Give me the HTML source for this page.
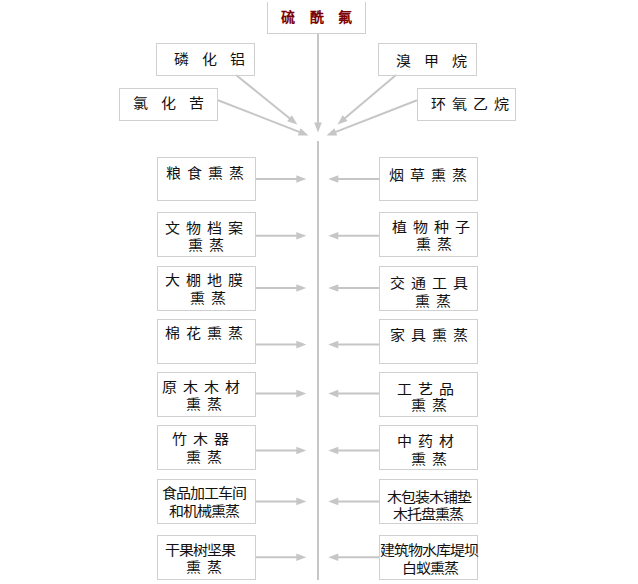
<!DOCTYPE html>
<html lang="zh-CN"><head><meta charset="utf-8"><style>
html,body{margin:0;padding:0;background:#fff;}
body{width:638px;height:584px;position:relative;overflow:hidden;font-family:"Liberation Sans",sans-serif;}
.b{position:absolute;box-sizing:border-box;border:1px solid #d0d0d0;}
.t{position:absolute;transform-origin:0 0;white-space:nowrap;font-size:14px;line-height:14px;color:#111;font-weight:300;}
.top{color:#7c0000;font-weight:bold;}
svg{position:absolute;left:0;top:0;}
</style></head><body>

<svg width="638" height="584" viewBox="0 0 638 584">
<line x1="318.00" y1="33.00" x2="318.00" y2="124.50" stroke="#c6c6c6" stroke-width="2"/>
<polygon points="318.00,132.50 314.20,122.50 321.80,122.50" fill="#c6c6c6"/>
<line x1="236.00" y1="75.00" x2="291.08" y2="119.47" stroke="#c6c6c6" stroke-width="2"/>
<polygon points="297.30,124.50 287.13,121.17 291.91,115.26" fill="#c6c6c6"/>
<line x1="218.00" y1="100.20" x2="301.05" y2="132.59" stroke="#c6c6c6" stroke-width="2"/>
<polygon points="308.50,135.50 297.80,135.41 300.56,128.33" fill="#c6c6c6"/>
<line x1="396.00" y1="75.00" x2="343.61" y2="119.33" stroke="#c6c6c6" stroke-width="2"/>
<polygon points="337.50,124.50 342.68,115.14 347.59,120.94" fill="#c6c6c6"/>
<line x1="417.00" y1="100.20" x2="333.95" y2="132.59" stroke="#c6c6c6" stroke-width="2"/>
<polygon points="326.50,135.50 334.44,128.33 337.20,135.41" fill="#c6c6c6"/>
<line x1="318.00" y1="141.00" x2="318.00" y2="580.00" stroke="#c6c6c6" stroke-width="2"/>
<line x1="255.00" y1="179.00" x2="298.30" y2="179.00" stroke="#c6c6c6" stroke-width="2"/>
<polygon points="306.30,179.00 296.30,182.80 296.30,175.20" fill="#c6c6c6"/>
<line x1="380.00" y1="179.00" x2="336.30" y2="179.00" stroke="#c6c6c6" stroke-width="2"/>
<polygon points="328.30,179.00 338.30,175.20 338.30,182.80" fill="#c6c6c6"/>
<line x1="255.00" y1="235.80" x2="298.30" y2="235.80" stroke="#c6c6c6" stroke-width="2"/>
<polygon points="306.30,235.80 296.30,239.60 296.30,232.00" fill="#c6c6c6"/>
<line x1="380.00" y1="235.80" x2="336.30" y2="235.80" stroke="#c6c6c6" stroke-width="2"/>
<polygon points="328.30,235.80 338.30,232.00 338.30,239.60" fill="#c6c6c6"/>
<line x1="255.00" y1="288.00" x2="298.30" y2="288.00" stroke="#c6c6c6" stroke-width="2"/>
<polygon points="306.30,288.00 296.30,291.80 296.30,284.20" fill="#c6c6c6"/>
<line x1="380.00" y1="288.00" x2="336.30" y2="288.00" stroke="#c6c6c6" stroke-width="2"/>
<polygon points="328.30,288.00 338.30,284.20 338.30,291.80" fill="#c6c6c6"/>
<line x1="255.00" y1="344.60" x2="298.30" y2="344.60" stroke="#c6c6c6" stroke-width="2"/>
<polygon points="306.30,344.60 296.30,348.40 296.30,340.80" fill="#c6c6c6"/>
<line x1="380.00" y1="344.60" x2="336.30" y2="344.60" stroke="#c6c6c6" stroke-width="2"/>
<polygon points="328.30,344.60 338.30,340.80 338.30,348.40" fill="#c6c6c6"/>
<line x1="255.00" y1="393.60" x2="298.30" y2="393.60" stroke="#c6c6c6" stroke-width="2"/>
<polygon points="306.30,393.60 296.30,397.40 296.30,389.80" fill="#c6c6c6"/>
<line x1="380.00" y1="393.60" x2="336.30" y2="393.60" stroke="#c6c6c6" stroke-width="2"/>
<polygon points="328.30,393.60 338.30,389.80 338.30,397.40" fill="#c6c6c6"/>
<line x1="255.00" y1="450.50" x2="298.30" y2="450.50" stroke="#c6c6c6" stroke-width="2"/>
<polygon points="306.30,450.50 296.30,454.30 296.30,446.70" fill="#c6c6c6"/>
<line x1="380.00" y1="450.50" x2="336.30" y2="450.50" stroke="#c6c6c6" stroke-width="2"/>
<polygon points="328.30,450.50 338.30,446.70 338.30,454.30" fill="#c6c6c6"/>
<line x1="255.00" y1="501.40" x2="298.30" y2="501.40" stroke="#c6c6c6" stroke-width="2"/>
<polygon points="306.30,501.40 296.30,505.20 296.30,497.60" fill="#c6c6c6"/>
<line x1="380.00" y1="501.40" x2="336.30" y2="501.40" stroke="#c6c6c6" stroke-width="2"/>
<polygon points="328.30,501.40 338.30,497.60 338.30,505.20" fill="#c6c6c6"/>
<line x1="255.00" y1="557.20" x2="298.30" y2="557.20" stroke="#c6c6c6" stroke-width="2"/>
<polygon points="306.30,557.20 296.30,561.00 296.30,553.40" fill="#c6c6c6"/>
<line x1="380.00" y1="557.20" x2="336.30" y2="557.20" stroke="#c6c6c6" stroke-width="2"/>
<polygon points="328.30,557.20 338.30,553.40 338.30,561.00" fill="#c6c6c6"/>
</svg>
<div class="b" style="left:267px;top:2px;width:99px;height:32px;border-top:none"></div>
<div class="t top" style="left:281.1px;top:10px;letter-spacing:14.500px;transform:scaleX(1.0)">硫酰氟</div>
<div class="b" style="left:156px;top:43px;width:99px;height:33px"></div>
<div class="t" style="left:174.0px;top:52px;letter-spacing:12.168px;transform:scaleX(1.07)">磷化铝</div>
<div class="b" style="left:119px;top:88px;width:99px;height:33px"></div>
<div class="t" style="left:132.9px;top:96px;letter-spacing:12.168px;transform:scaleX(1.07)">氯化苦</div>
<div class="b" style="left:378px;top:43px;width:99px;height:33px"></div>
<div class="t" style="left:395.8px;top:54px;letter-spacing:12.168px;transform:scaleX(1.07)">溴甲烷</div>
<div class="b" style="left:417px;top:88px;width:99px;height:33px"></div>
<div class="t" style="left:430.9px;top:97px;letter-spacing:5.626px;transform:scaleX(1.07)">环氧乙烷</div>
<div class="b" style="left:157px;top:157px;width:99px;height:44px"></div>
<div class="b" style="left:379px;top:157px;width:99px;height:44px"></div>
<div class="b" style="left:157px;top:212px;width:99px;height:45px"></div>
<div class="b" style="left:379px;top:212px;width:99px;height:45px"></div>
<div class="b" style="left:157px;top:266px;width:99px;height:45px"></div>
<div class="b" style="left:379px;top:266px;width:99px;height:45px"></div>
<div class="b" style="left:157px;top:319px;width:99px;height:45px"></div>
<div class="b" style="left:379px;top:319px;width:99px;height:45px"></div>
<div class="b" style="left:157px;top:372px;width:99px;height:45px"></div>
<div class="b" style="left:379px;top:372px;width:99px;height:45px"></div>
<div class="b" style="left:157px;top:425px;width:99px;height:45px"></div>
<div class="b" style="left:379px;top:425px;width:99px;height:45px"></div>
<div class="b" style="left:157px;top:479px;width:99px;height:45px"></div>
<div class="b" style="left:379px;top:479px;width:99px;height:45px"></div>
<div class="b" style="left:157px;top:535px;width:99px;height:45px"></div>
<div class="b" style="left:379px;top:535px;width:99px;height:45px"></div>
<div class="t" style="left:165.6px;top:166px;letter-spacing:5.626px;transform:scaleX(1.07)">粮食熏蒸</div>
<div class="t" style="left:164.9px;top:221px;letter-spacing:5.626px;transform:scaleX(1.07)">文物档案</div>
<div class="t" style="left:188.4px;top:238px;letter-spacing:5.626px;transform:scaleX(1.07)">熏蒸</div>
<div class="t" style="left:164.9px;top:273px;letter-spacing:5.626px;transform:scaleX(1.07)">大棚地膜</div>
<div class="t" style="left:189.9px;top:291px;letter-spacing:5.626px;transform:scaleX(1.07)">熏蒸</div>
<div class="t" style="left:164.9px;top:326px;letter-spacing:5.626px;transform:scaleX(1.07)">棉花熏蒸</div>
<div class="t" style="left:162.0px;top:380px;letter-spacing:5.626px;transform:scaleX(1.07)">原木木材</div>
<div class="t" style="left:185.9px;top:397px;letter-spacing:5.626px;transform:scaleX(1.07)">熏蒸</div>
<div class="t" style="left:171.9px;top:432px;letter-spacing:5.626px;transform:scaleX(1.07)">竹木器</div>
<div class="t" style="left:185.9px;top:450px;letter-spacing:5.626px;transform:scaleX(1.07)">熏蒸</div>
<div class="t" style="left:162.0px;top:486px;letter-spacing:-0.916px;transform:scaleX(1.07)">食品加工车间</div>
<div class="t" style="left:168.6px;top:504px;letter-spacing:-0.916px;transform:scaleX(1.07)">和机械熏蒸</div>
<div class="t" style="left:165.1px;top:543px;letter-spacing:-0.916px;transform:scaleX(1.07)">干果树坚果</div>
<div class="t" style="left:185.9px;top:560px;letter-spacing:5.626px;transform:scaleX(1.07)">熏蒸</div>
<div class="t" style="left:388.6px;top:168px;letter-spacing:5.626px;transform:scaleX(1.07)">烟草熏蒸</div>
<div class="t" style="left:391.5px;top:220px;letter-spacing:5.626px;transform:scaleX(1.07)">植物种子</div>
<div class="t" style="left:415.6px;top:237px;letter-spacing:5.626px;transform:scaleX(1.07)">熏蒸</div>
<div class="t" style="left:389.7px;top:276px;letter-spacing:5.626px;transform:scaleX(1.07)">交通工具</div>
<div class="t" style="left:414.9px;top:294px;letter-spacing:5.626px;transform:scaleX(1.07)">熏蒸</div>
<div class="t" style="left:389.9px;top:328px;letter-spacing:5.626px;transform:scaleX(1.07)">家具熏蒸</div>
<div class="t" style="left:396.9px;top:382px;letter-spacing:5.626px;transform:scaleX(1.07)">工艺品</div>
<div class="t" style="left:410.8px;top:398px;letter-spacing:5.626px;transform:scaleX(1.07)">熏蒸</div>
<div class="t" style="left:397.3px;top:434px;letter-spacing:5.626px;transform:scaleX(1.07)">中药材</div>
<div class="t" style="left:410.8px;top:452px;letter-spacing:5.626px;transform:scaleX(1.07)">熏蒸</div>
<div class="t" style="left:386.5px;top:490px;letter-spacing:-0.916px;transform:scaleX(1.07)">木包装木铺垫</div>
<div class="t" style="left:392.8px;top:507px;letter-spacing:-0.916px;transform:scaleX(1.07)">木托盘熏蒸</div>
<div class="t" style="left:379.7px;top:543px;letter-spacing:-0.916px;transform:scaleX(1.07)">建筑物水库堤坝</div>
<div class="t" style="left:401.8px;top:561px;letter-spacing:-0.916px;transform:scaleX(1.07)">白蚁熏蒸</div>
</body></html>
